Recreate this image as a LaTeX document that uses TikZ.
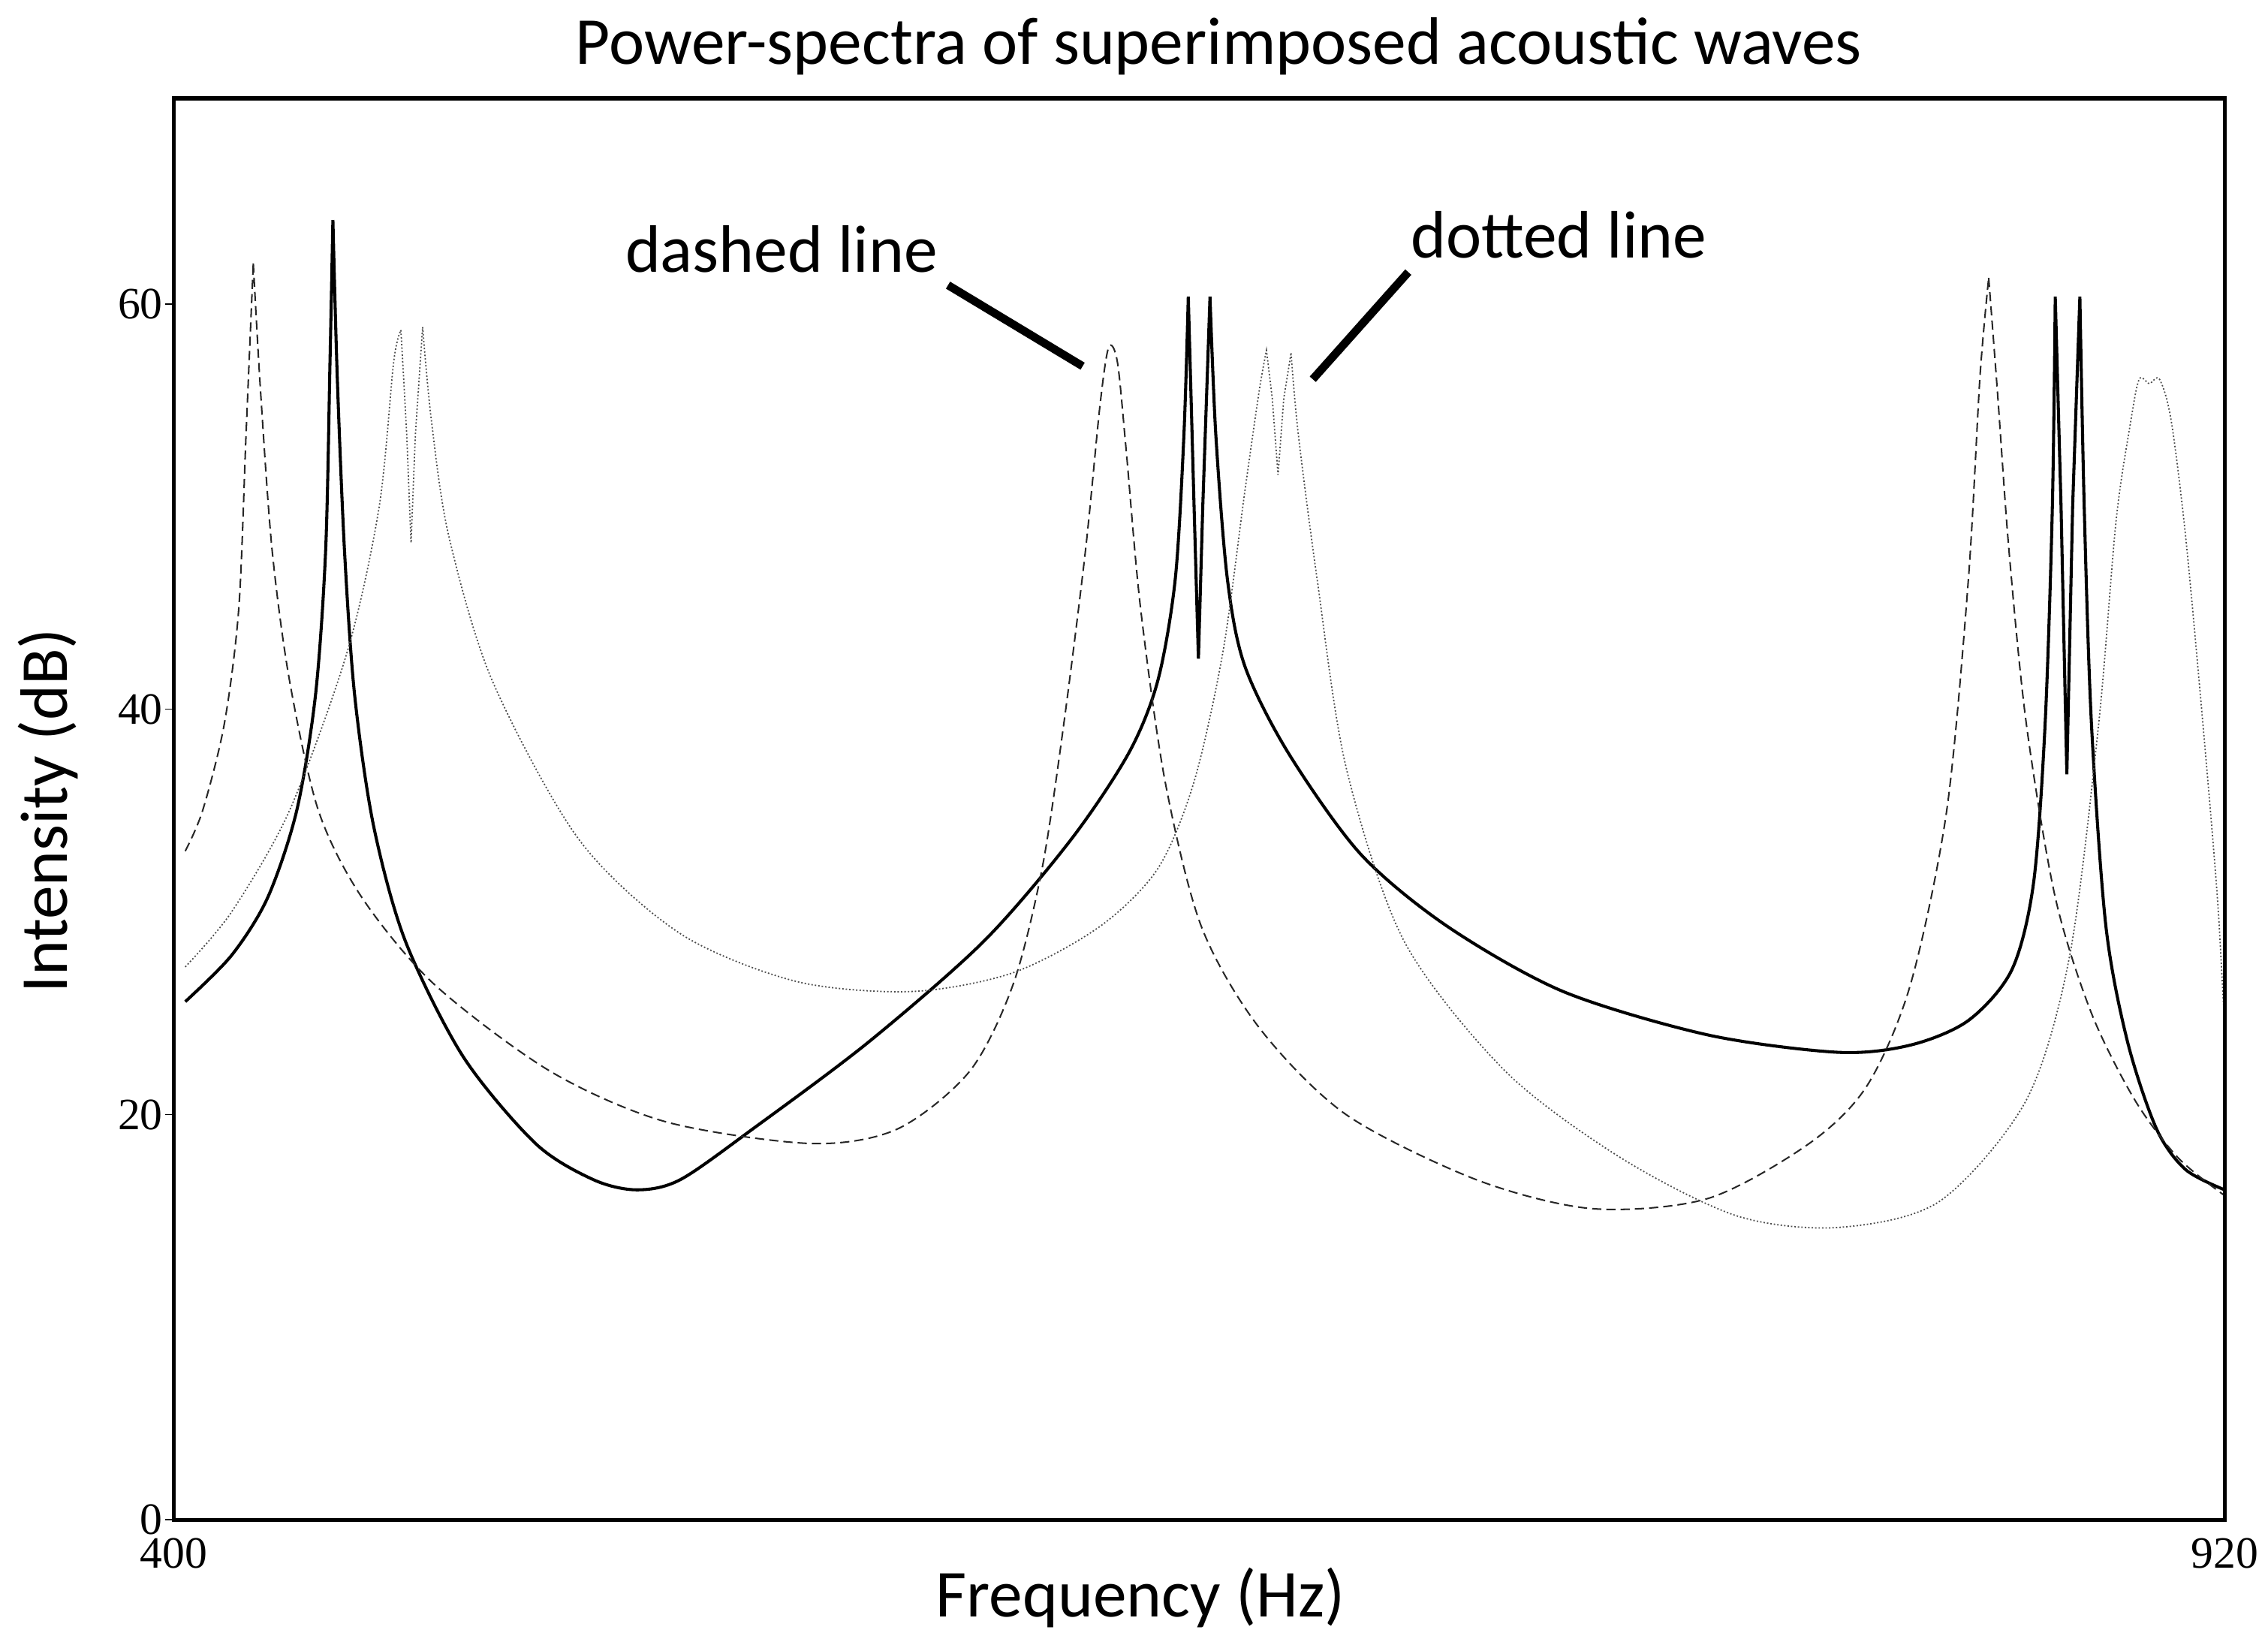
\documentclass[tikz,border=0pt]{standalone}
\usepackage{fontspec}
\setmainfont{Carlito}
\newfontfamily\tickfont{Liberation Serif}
\begin{document}
\begin{tikzpicture}[x=0.5mm,y=-0.5mm,
  solidc/.style={line width=3pt,black,line join=miter},
  dashc/.style={line width=1.5pt,black!85,dash pattern=on 9pt off 5pt},
  dotc/.style={line width=1.3pt,black!70,dash pattern=on 1.4pt off 2pt},
  pointer/.style={line width=8pt},
  lab/.style={font=\fontsize{66}{78}\selectfont},
  tick/.style={font=\tickfont\fontsize{44}{50}\selectfont}]
\useasboundingbox (0,0) rectangle (1567,1136);
\fill[white] (0,0) rectangle (1567,1136);
% curves
\begin{scope}
\clip (120,68) rectangle (1537,1050);
\draw[solidc] plot[smooth,tension=0.5] coordinates {(128,692)(160,660)(185,620)(205,560)(218,480)(225,380)(228,250)(230,152)}
 plot[smooth,tension=0.5] coordinates {(230,152)(233,260)(238,380)(245,480)(258,570)(280,650)(320,730)(370,790)(410,815)(440,822)(470,815)(520,780)(600,720)(680,650)(740,580)(780,520)(800,470)(812,400)(818,300)(821,205)}
 -- (825,350) -- (828,455) -- (831,350) -- (836,205)
 plot[smooth,tension=0.5] coordinates {(836,205)(840,300)(848,400)(860,460)(890,520)(940,590)(1000,640)(1080,685)(1180,715)(1270,727)(1320,722)(1360,705)(1390,670)(1405,610)(1413,500)(1418,350)(1420,205)}
 -- (1424,350) -- (1428,535) -- (1432,350) -- (1437,205)
 plot[smooth,tension=0.5] coordinates {(1437,205)(1440,350)(1445,500)(1455,640)(1470,720)(1490,780)(1510,808)(1537,822)};
\draw[dashc] plot[smooth,tension=0.5] coordinates {(128,588)(140,560)(155,500)(165,420)(170,300)(175,182)}
 plot[smooth,tension=0.5] coordinates {(175,182)(180,270)(188,380)(200,470)(220,560)(250,620)(300,680)(380,740)(460,775)(560,790)(620,780)(670,740)(700,680)(720,600)(735,500)(750,380)(760,280)(766,240)(772,250)(778,310)(788,420)(805,540)(830,640)(870,710)(930,770)(1020,815)(1100,835)(1180,828)(1250,790)(1290,750)(1320,680)(1345,560)(1360,400)(1368,260)(1374,192)}
 plot[smooth,tension=0.5] coordinates {(1374,192)(1380,270)(1388,380)(1400,500)(1420,620)(1445,700)(1475,760)(1505,800)(1537,826)};
\draw[dotc] plot[smooth,tension=0.5] coordinates {(128,668)(160,630)(200,560)(240,450)(262,350)(272,250)(277,228)}
 -- (281,300) -- (284,375) -- (287,300) -- (292,226)
 plot[smooth,tension=0.5] coordinates {(292,226)(298,290)(310,370)(340,470)(400,580)(470,645)(550,678)(630,685)(700,672)(760,640)(800,600)(825,540)(845,450)(860,340)(870,270)(875,242)}
 -- (879,275) -- (883,328) -- (887,275) -- (892,244)
 plot[smooth,tension=0.5] coordinates {(892,244)(897,300)(910,400)(930,530)(970,650)(1040,740)(1120,800)(1200,840)(1270,848)(1340,830)(1400,760)(1430,660)(1450,500)(1462,360)(1472,292)(1478,262)(1485,265)(1492,262)(1500,290)(1510,370)(1522,500)(1532,620)(1537,710)};
\end{scope}
% frame
\node[draw,line width=4pt,minimum width=708.5mm,minimum height=491mm,inner sep=0pt] (frame) at (828.5,559) {};
% ticks
\foreach \v/\yy in {0/1050,20/770,40/490,60/210}{
  \draw[line width=1.2pt] (114,\yy) -- (120,\yy);
  \node[tick,anchor=east,inner sep=2pt] (t\v) at (114,\yy) {\v};
}
\node[tick,anchor=north] (x400) at (120,1060) {400};
\node[tick,anchor=north] (x920) at (1537,1060) {920};
% labels
\node[lab] (title) at (842,32) {Power-spectra of superimposed acoustic waves};
\node[lab] (xl) at (788,1104) {Frequency (Hz)};
\node[lab,rotate=90] (yl) at (33,560) {Intensity (dB)};
\node[lab] (dl) at (540,172) {dashed line};
\node[lab] (ol) at (1077,162) {dotted line};
\coordinate (da) at (655,197); \coordinate (db) at (748,253);
\coordinate (oa) at (973,188); \coordinate (ob) at (907,262);
\draw[pointer] (da) -- (db);
\draw[pointer] (oa) -- (ob);
\end{tikzpicture}
\end{document}
